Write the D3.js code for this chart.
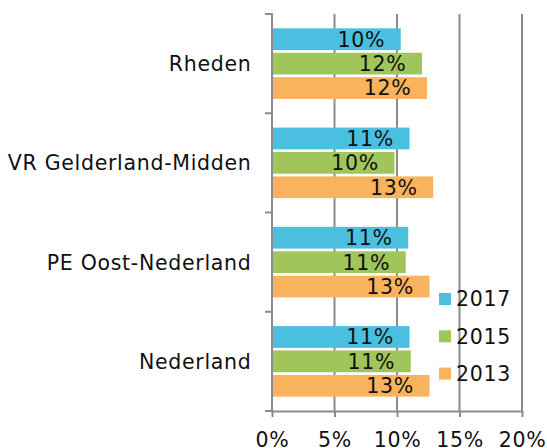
<!DOCTYPE html>
<html>
<head>
<meta charset="utf-8">
<script src="https://cdn.jsdelivr.net/npm/d3@7"></script>
<style>
  html, body { margin: 0; padding: 0; background: #fff; }
  svg { display: block; font-family: "DejaVu Sans", Verdana, sans-serif; }
  text { letter-spacing: 0.7px; }
</style>
</head>
<body>
<svg id="chart" width="547" height="448"></svg>
<script>
// Regions, top to bottom
const categories = ["Rheden", "VR Gelderland-Midden", "PE Oost-Nederland", "Nederland"];
// Survey years, drawn top to bottom inside each group
const years = ["2017", "2015", "2013"];
// Shares per region (fraction), one array per year
const values2017 = [0.103, 0.110, 0.109, 0.110];
const values2015 = [0.120, 0.098, 0.107, 0.111];
const values2013 = [0.124, 0.129, 0.126, 0.126];
const xTicks = [0, 0.05, 0.10, 0.15, 0.20];
const colors = { "2017": "#4bbfdf", "2015": "#9fc55b", "2013": "#f9b35c" };

const seriesValues = { "2017": values2017, "2015": values2015, "2013": values2013 };

const svg = d3.select("#chart");
const plot = { left: 272, right: 522, top: 14, bottom: 411 };
const gridColor = "#8c8c8c";
const fontSize = 20.5;

const x = d3.scaleLinear().domain([0, 0.20]).range([plot.left, plot.right]);
const y = d3.scaleBand().domain(categories).range([plot.top, plot.bottom]).padding(0);
const step = y.step();
const groupPad = 13;
const yInner = d3.scaleBand().domain(years)
  .range([groupPad, step - groupPad])
  .paddingInner(0.11).paddingOuter(0.055);

// Vertical gridlines
svg.append("g").selectAll("line")
  .data(xTicks.filter(d => d > 0))
  .join("line")
  .attr("x1", d => x(d)).attr("x2", d => x(d))
  .attr("y1", plot.top).attr("y2", plot.bottom)
  .attr("stroke", gridColor).attr("stroke-width", 2);

// Bars
const rows = [];
categories.forEach((c, i) => years.forEach(yr => rows.push({ cat: c, year: yr, value: seriesValues[yr][i] })));

const bars = svg.append("g");
bars.selectAll("rect")
  .data(rows)
  .join("rect")
  .attr("x", x(0))
  .attr("y", d => y(d.cat) + yInner(d.year))
  .attr("width", d => x(d.value) - x(0))
  .attr("height", yInner.bandwidth())
  .attr("fill", d => colors[d.year]);

// Value labels, inside the bar end
const fmt = d3.format(".0%");
bars.selectAll("text")
  .data(rows)
  .join("text")
  .attr("x", d => x(d.value) - 15.5)
  .attr("y", d => y(d.cat) + yInner(d.year) + yInner.bandwidth() / 2)
  .attr("dy", "0.36em")
  .attr("text-anchor", "end")
  .attr("font-size", fontSize)
  .attr("fill", "#111")
  .text(d => fmt(d.value));

// Bottom axis
const xAxis = svg.append("g")
  .attr("transform", `translate(0,${plot.bottom})`)
  .call(d3.axisBottom(x).tickValues(xTicks).tickFormat(d3.format(".0%")).tickSize(6).tickPadding(15).tickSizeOuter(0));
xAxis.select(".domain").attr("stroke", gridColor).attr("stroke-width", 2);
xAxis.selectAll(".tick line").attr("stroke", gridColor).attr("stroke-width", 2);
xAxis.selectAll(".tick text").attr("font-size", fontSize).attr("fill", "#111").attr("font-family", "DejaVu Sans, Verdana, sans-serif");

// Left axis: ticks on group boundaries, labels centred on groups
const yAxis = svg.append("g").attr("transform", `translate(${plot.left},0)`);
yAxis.append("line")
  .attr("x1", 0).attr("x2", 0)
  .attr("y1", plot.top - 1).attr("y2", plot.bottom + 1)
  .attr("stroke", gridColor).attr("stroke-width", 2);
const boundaries = categories.map(c => y(c)).concat([plot.bottom]);
yAxis.selectAll("line.tick")
  .data(boundaries)
  .join("line")
  .attr("class", "tick")
  .attr("x1", -7).attr("x2", 0)
  .attr("y1", d => d).attr("y2", d => d)
  .attr("stroke", gridColor).attr("stroke-width", 2);
yAxis.selectAll("text")
  .data(categories)
  .join("text")
  .attr("x", -20.5)
  .attr("y", d => y(d) + step / 2)
  .attr("dy", "0.36em")
  .attr("text-anchor", "end")
  .attr("font-size", fontSize)
  .attr("fill", "#111")
  .text(d => d);

// Legend
const legend = svg.append("g").attr("transform", "translate(439,299)");
const legendItem = legend.selectAll("g")
  .data(years)
  .join("g")
  .attr("transform", (d, i) => `translate(0,${i * 37.3})`);
legendItem.append("rect")
  .attr("x", 0).attr("y", -6)
  .attr("width", 12).attr("height", 12)
  .attr("fill", d => colors[d]);
legendItem.append("text")
  .attr("x", 17).attr("y", 0)
  .attr("dy", "0.36em")
  .attr("font-size", fontSize)
  .attr("fill", "#111")
  .text(d => d);
</script>
</body>
</html>
